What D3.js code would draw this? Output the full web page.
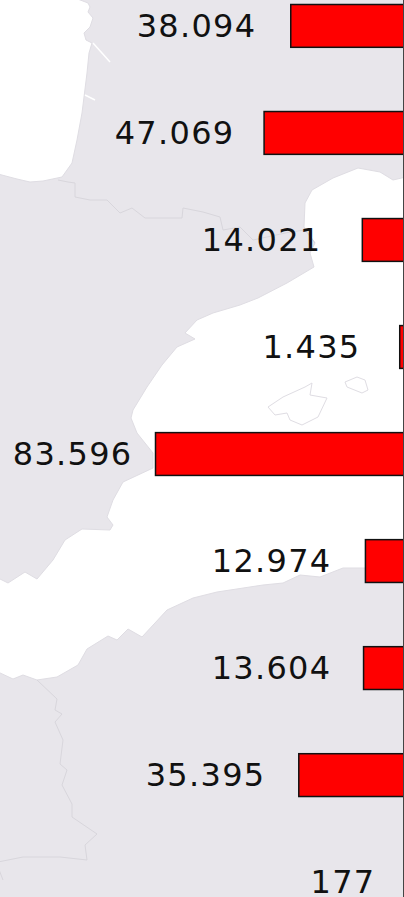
<!DOCTYPE html>
<html><head><meta charset="utf-8">
<style>html,body{margin:0;padding:0;background:#fff;overflow:hidden}svg{display:block}text{font-family:"DejaVu Sans",Verdana,sans-serif}</style>
<script src="https://cdn.jsdelivr.net/npm/d3@7"></script></head><body>
<script>
const width=404,height=897;
const categories=["a","b","c","d","e","f","g","h","i"];
const values=[38094,47069,14021,1435,83596,12974,13604,35395,177];
const labels=["38.094","47.069","14.021","1.435","83.596","12.974","13.604","35.395","177"];
const labelGaps=[34.3,29.6,40.8,39.2,23,33.9,32.1,33.3,28];
const atlantic=[[-2,-2],[75,-2],[88,3],[90,7],[88,12],[93,18],[90,27],[84,33],[86,40],[92,43],[89,53],[87,73],[84,97],[82,113],[77,140],[72,163],[62,177],[43,181],[30,182],[17,179],[-2,174]];
const med=[[406,177],[393,180],[380,172],[358,168],[333,178],[312,190],[305,203],[304,227],[315,243],[310,253],[314,267],[287,283],[258,298],[240,305],[213,313],[197,320],[185,333],[195,339],[177,347],[162,365],[147,387],[133,410],[131,418],[137,433],[153,453],[153,468],[123,482],[113,500],[107,517],[113,525],[110,530],[82,529],[65,540],[53,560],[37,579],[25,572],[8,583],[-2,578],[-2,672],[13,679],[23,675],[37,680],[57,677],[78,665],[87,649],[108,636],[117,640],[128,629],[142,637],[167,610],[193,598],[217,592],[263,585],[283,583],[300,575],[320,577],[343,568],[363,568],[406,568]];
const mallorca=[[268,407],[283,397],[305,387],[312,383],[310,395],[327,398],[318,417],[302,425],[290,420],[287,413],[275,415]];
const menorca=[[345,382],[357,377],[365,380],[368,390],[362,393],[347,387]];
const inlet1=[[93,43],[110,62]];
const inlet2=[[85,95],[95,100]];
const border1=[[58,180],[68,182],[75,183],[75,197],[90,200],[107,200],[120,213],[132,208],[145,218],[182,218],[183,208],[203,212],[220,217],[223,230],[240,227],[253,240],[290,232],[305,230],[315,243]];
const border2=[[37,680],[57,699],[55,710],[62,714],[55,722],[63,740],[60,764],[67,770],[62,785],[72,804],[72,817],[97,834],[85,845],[87,860],[60,857],[23,857],[8,860],[-2,862]];
const border3=[[-2,867],[3,880]];
const svg=d3.select("body").append("svg").attr("width",width).attr("height",height);
svg.append("rect").attr("width",width).attr("height",height).attr("fill","#e8e6eb");
const line=d3.line();
const closed=d3.line().curve(d3.curveLinearClosed);
svg.selectAll("path.sea").data([atlantic,med,mallorca,menorca]).join("path").attr("class","sea")
  .attr("d",d=>closed(d)).attr("fill","#fff").attr("stroke","#dfdde3").attr("stroke-width",1);
svg.selectAll("path.inlet").data([inlet1,inlet2]).join("path").attr("class","inlet")
  .attr("d",d=>line(d)).attr("fill","none").attr("stroke","#fff").attr("stroke-width",1.5);
svg.selectAll("path.border").data([border1,border2,border3]).join("path").attr("class","border")
  .attr("d",d=>line(d)).attr("fill","none").attr("stroke","#d8d6dc").attr("stroke-width",1);
const x=d3.scaleLinear().domain([0,83596]).range([404,155.5]);
const y=d3.scaleBand().domain(categories).range([4,4+107.03*8.4]).paddingInner(0.6).paddingOuter(0).align(0);
const bh=y.bandwidth();
svg.selectAll("rect.bar").data(categories).join("rect").attr("class","bar")
  .attr("x",(c,i)=>x(values[i])).attr("y",c=>y(c)+0.5).attr("width",(c,i)=>404-x(values[i])).attr("height",bh)
  .attr("fill","#ff0000").attr("stroke",(c,i)=>404-x(values[i])<1?"none":"#111").attr("stroke-width",1.5);
svg.append("line").attr("x1",403.5).attr("x2",403.5).attr("y1",0).attr("y2",height).attr("stroke","#444").attr("stroke-width",1);
svg.selectAll("text.lab").data(categories).join("text").attr("class","lab")
  .attr("x",(c,i)=>x(values[i])-labelGaps[i]).attr("y",c=>y(c)+32.6).attr("text-anchor","end")
  .attr("font-size",32).attr("letter-spacing",1.3).attr("fill","#111").text((c,i)=>labels[i]);
</script></body></html>
